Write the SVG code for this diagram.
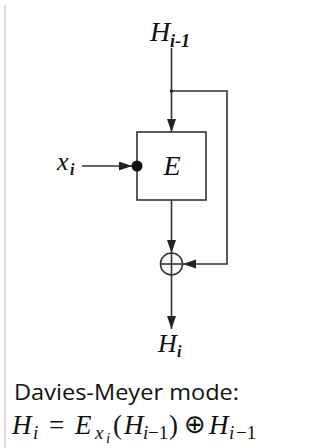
<svg xmlns="http://www.w3.org/2000/svg" width="331" height="448" viewBox="0 0 331 448">
  <style>
    .ln { fill: none; stroke: #333; stroke-width: 1.6; }
    .lbl { font-family: "Liberation Serif", "DejaVu Serif", serif; font-style: italic; fill: #111; }
    .math { font-family: "Liberation Serif", "DejaVu Serif", serif; fill: #111; }
    .it { font-style: italic; }
    .cap { font-family: "Open Sans", "Noto Sans", "Liberation Sans", sans-serif; fill: #111; }
  </style>
  <defs>
    <marker id="arr" markerUnits="userSpaceOnUse" markerWidth="14" markerHeight="10" refX="13" refY="4.5" orient="auto">
      <path d="M0,0 L13,4.5 L0,9 z" fill="#222"/>
    </marker>
  </defs>
  <rect width="331" height="448" fill="#fff"/>
  <line x1="5" y1="5" x2="5" y2="448" stroke="#d9d9d9" stroke-width="2"/>

  <g id="connectors">
    <line class="ln" x1="171.5" y1="48" x2="171.5" y2="132" marker-end="url(#arr)"/>
    <circle cx="171.5" cy="91" r="1.8" fill="#222"/>
    <path class="ln" d="M171.5,91 H227 V264 H183" marker-end="url(#arr)"/>
    <line class="ln" x1="82" y1="166" x2="132" y2="166" marker-end="url(#arr)"/>
    <line class="ln" x1="171.5" y1="200" x2="171.5" y2="253" marker-end="url(#arr)"/>
    <line class="ln" x1="171.5" y1="275" x2="171.5" y2="329" marker-end="url(#arr)"/>
  </g>

  <g id="node-Hprev">
    <text class="lbl" x="150" y="41" font-size="28">H</text>
    <text class="lbl" x="170" y="47" font-size="18" font-weight="bold">i-1</text>
  </g>

  <g id="node-xi">
    <text class="lbl" x="57" y="170" font-size="26">x</text>
    <text class="lbl" x="70" y="175" font-size="16" font-weight="bold">i</text>
  </g>

  <g id="node-E">
    <rect class="ln" x="137" y="132" width="69" height="68" fill="#fff"/>
    <circle cx="137" cy="166" r="5.5" fill="#111"/>
    <text class="lbl" x="172" y="175" font-size="28" text-anchor="middle">E</text>
  </g>

  <g id="node-xor">
    <circle class="ln" cx="171.5" cy="264" r="11"/>
    <line class="ln" x1="160.5" y1="264" x2="182.5" y2="264"/>
    <line class="ln" x1="171.5" y1="253" x2="171.5" y2="275"/>
  </g>

  <g id="node-Hi">
    <text class="lbl" x="158" y="352" font-size="26">H</text>
    <text class="lbl" x="177" y="357" font-size="16" font-weight="bold">i</text>
  </g>

  <g id="caption">
    <text class="cap" x="14" y="400" font-size="22" textLength="225" lengthAdjust="spacingAndGlyphs">Davies-Meyer mode:</text>
    <text class="math" font-size="27" y="434">
      <tspan class="it" x="12">H</tspan>
      <tspan class="it" x="33" y="439" font-size="19">i</tspan>
      <tspan x="49" y="434">=</tspan>
      <tspan class="it" x="75" y="434">E</tspan>
      <tspan class="it" x="95" y="439" font-size="19">x</tspan>
      <tspan class="it" x="106" y="443" font-size="15">i</tspan>
      <tspan x="113" y="434">(</tspan>
      <tspan class="it" x="124" y="434">H</tspan>
      <tspan class="it" x="143" y="439" font-size="19">i</tspan>
      <tspan x="148" y="439" font-size="19">−1</tspan>
      <tspan x="169" y="434">)</tspan>
      <tspan x="184" y="433" font-family="DejaVu Sans, sans-serif" font-size="26">⊕</tspan>
      <tspan class="it" x="209" y="434">H</tspan>
      <tspan class="it" x="229" y="439" font-size="19">i</tspan>
      <tspan x="236" y="439" font-size="19">−1</tspan>
    </text>
  </g>
</svg>
